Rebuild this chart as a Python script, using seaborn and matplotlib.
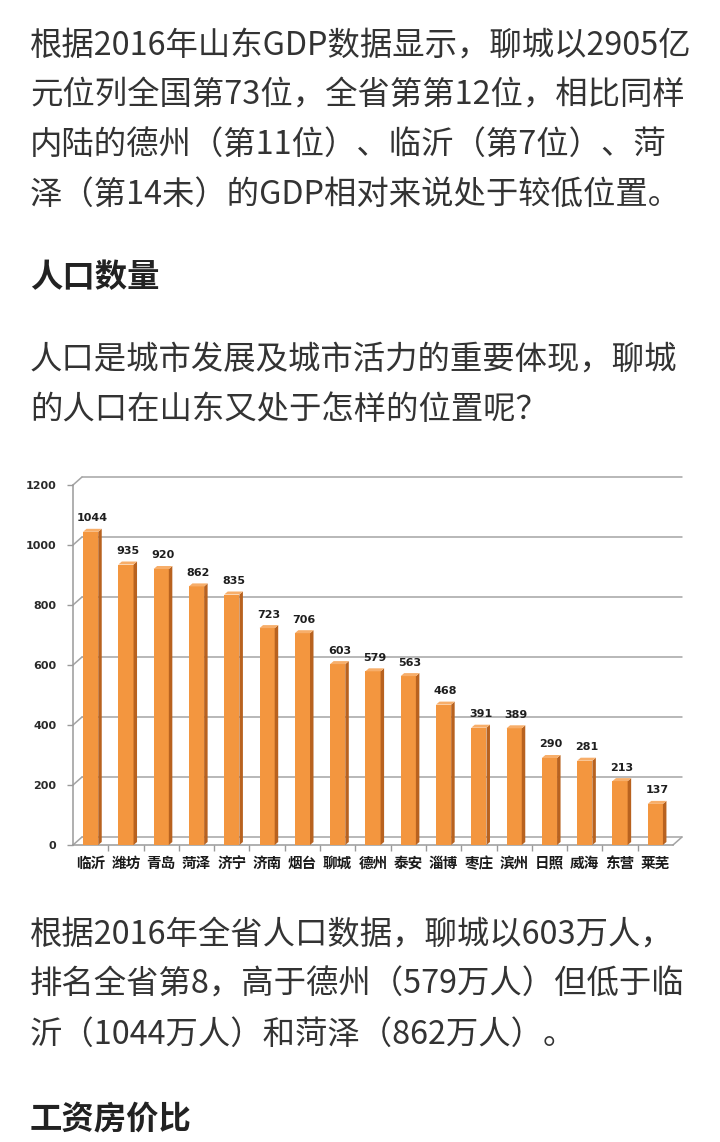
import matplotlib
matplotlib.use('Agg')
import matplotlib.pyplot as plt
import seaborn as sns
import pandas as pd
from matplotlib.patches import Polygon
from matplotlib.transforms import ScaledTranslation
from matplotlib.lines import Line2D

# ---------------- data ----------------
cities = ['临沂', '潍坊', '青岛', '菏泽', '济宁', '济南', '烟台', '聊城', '德州',
          '泰安', '淄博', '枣庄', '滨州', '日照', '威海', '东营', '莱芜']
population = [1044, 935, 920, 862, 835, 723, 706, 603, 579,
              563, 468, 391, 389, 290, 281, 213, 137]
y_ticks = [0, 200, 400, 600, 800, 1000, 1200]

para1 = ['根据2016年山东GDP数据显示，聊城以2905亿',
         '元位列全国第73位，全省第第12位，相比同样',
         '内陆的德州（第11位）、临沂（第7位）、菏',
         '泽（第14未）的GDP相对来说处于较低位置。']
heading1 = '人口数量'
para2 = ['人口是城市发展及城市活力的重要体现，聊城',
         '的人口在山东又处于怎样的位置呢？']
para3 = ['根据2016年全省人口数据，聊城以603万人，',
         '排名全省第8，高于德州（579万人）但低于临',
         '沂（1044万人）和菏泽（862万人）。']
heading2 = '工资房价比'

# ---------------- style ----------------
sns.set_theme(style='white')
plt.rcParams['font.family'] = ['Noto Sans CJK SC', 'DejaVu Sans']

W, H = 720, 1142
fig = plt.figure(figsize=(W / 100, H / 100), dpi=100)
fig.patch.set_facecolor('white')

TXT = '#333333'
FS = 23.3


def put(y_px, s, bold=False):
    fig.text(30 / W, 1 - y_px / H, s, ha='left', va='center', fontsize=FS,
             color='#222222' if bold else TXT,
             fontweight='bold' if bold else 'normal')


for i, s in enumerate(para1):
    put(46 + i * 49.5, s)
put(278, heading1, bold=True)
for i, s in enumerate(para2):
    put(360 + i * 50, s)
for i, s in enumerate(para3):
    put(935 + i * 50, s)
put(1119, heading2, bold=True)

# ---------------- chart ----------------
ax_l, ax_r, ax_t, ax_b = 73, 673, 485, 845
ax = fig.add_axes([ax_l / W, 1 - ax_b / H, (ax_r - ax_l) / W, (ax_b - ax_t) / H])
ax.set_facecolor('white')

df = pd.DataFrame({'city': cities, 'pop': population})
front = '#F3963F'
sns.barplot(data=df, x='city', y='pop', color=front, width=0.43,
            saturation=1, ax=ax, zorder=3)
ax.set_ylim(0, 1200)
ax.set_xlim(-0.5, len(cities) - 0.5)

# pseudo-3D: side and top faces derived from the bar patches
px_x = (len(cities)) / (ax_r - ax_l)      # data units per pixel (x)
px_y = 1200 / (ax_b - ax_t)               # data units per pixel (y)
dx, dy = 3.5 * px_x, 3.0 * px_y
for p in ax.patches:
    p.set_edgecolor('none')
    x0, w, h = p.get_x(), p.get_width(), p.get_height()
    x1 = x0 + w
    side = Polygon([(x1, 0), (x1 + dx, dy), (x1 + dx, h + dy), (x1, h)],
                   closed=True, facecolor='#B8621F', edgecolor='none', zorder=3)
    top = Polygon([(x0, h), (x0 + dx, h + dy), (x1 + dx, h + dy), (x1, h)],
                  closed=True, facecolor='#F7AE6A', edgecolor='none', zorder=3)
    ax.add_patch(side)
    ax.add_patch(top)
    ax.annotate(f'{int(round(h))}', xy=(x0 + w / 2 + dx / 2, h + dy),
                xytext=(0, 4), textcoords='offset points',
                ha='center', va='bottom', fontsize=8, fontweight='bold',
                color='#1e1e1e', family='DejaVu Sans', zorder=5)

# back-wall gridlines (offset up-right) with diagonal connectors
off = ScaledTranslation(9 / 100, 8 / 100, fig.dpi_scale_trans)
gtrans = ax.get_yaxis_transform() + off
grid_c = '#A4A4A4'
for v in y_ticks:
    ax.add_line(Line2D([0, 1], [v, v], transform=gtrans, color=grid_c,
                       lw=1.1, zorder=1, clip_on=False))
for v in y_ticks:
    p0 = ax.get_yaxis_transform().transform((0, v))
    p1 = gtrans.transform((0, v))
    ax.add_line(Line2D([p0[0], p1[0]], [p0[1], p1[1]], transform=None,
                       color=grid_c, lw=1.1, clip_on=False, zorder=1))
# floor right edge
p0 = ax.transAxes.transform((1, 0))
p1 = (ax.transAxes + off).transform((1, 0))
ax.add_line(Line2D([p0[0], p1[0]], [p0[1], p1[1]], transform=None,
                   color=grid_c, lw=1.1, clip_on=False, zorder=1))

# spines
for s in ['top', 'right']:
    ax.spines[s].set_visible(False)
for s in ['left', 'bottom']:
    ax.spines[s].set_color('#9A9A9A')
    ax.spines[s].set_linewidth(1.1)

ax.set_yticks(y_ticks)
ax.set_yticklabels([str(v) for v in y_ticks], fontsize=8, fontweight='bold',
                   color='#2a2a2a', family='DejaVu Sans')
ax.tick_params(axis='y', left=True, length=4, width=1, color='#9A9A9A', pad=8)

ax.set_xticks(range(len(cities)))
ax.set_xticklabels(cities, fontsize=10.5, fontweight='bold', color='#1a1a1a')
ax.tick_params(axis='x', bottom=False, length=0, pad=7)
ax.set_xticks([i + 0.5 for i in range(len(cities) - 1)], minor=True)
ax.tick_params(axis='x', which='minor', bottom=True, length=4, width=1,
               color='#9A9A9A')
ax.set_xlabel('')
ax.set_ylabel('')
ax.grid(False)

fig.savefig('out.png', dpi=100, facecolor='white')
